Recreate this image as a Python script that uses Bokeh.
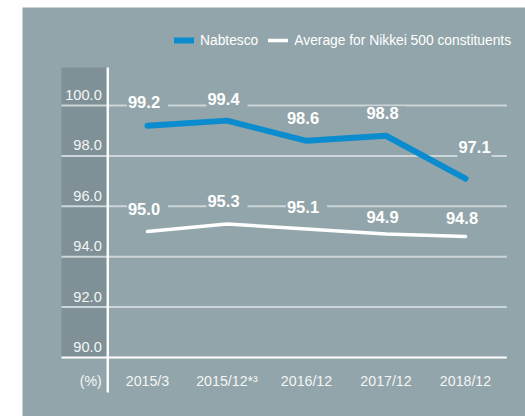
from bokeh.plotting import figure
from bokeh.models import Range1d, BoxAnnotation, Legend, LegendItem, ColumnDataSource
from bokeh.core.properties import value
from bokeh.embed import file_html
from bokeh.resources import INLINE

# ---- data ----
categories = ["2015/3", "2015/12*³", "2016/12", "2017/12", "2018/12"]
nabtesco = [99.2, 99.4, 98.6, 98.8, 97.1]
nikkei_avg = [95.0, 95.3, 95.1, 94.9, 94.8]
y_ticks = [90.0, 92.0, 94.0, 96.0, 98.0, 100.0]
unit_label = "(%)"
series_names = ["Nabtesco", "Average for Nikkei 500 constituents"]

# ---- label placement (screen px) ----
nab_dx = [0, 0, 0, 0, 9]
nab_dy = [-20, -18, -19, -19, -25]
nab_pad = [(1, 8, 1, 8)] * 4 + [(1, 1, 1, 15)]
avg_dx = [0, 0, 0, 0, 0]
avg_dy = [-19, -19, -18, -14, -15]
avg_pad = [(1, 8, 1, 8)] * 5

PANEL = "#92a5aa"
BAND = "#7f9196"
BLUE = "#0a8ccf"
GRID = "#ccd6d8"
FONT = "Liberation Sans"
FS = "13.8px"

xs = list(range(len(categories)))

p = figure(width=525, height=416, output_backend="svg", toolbar_location=None,
           x_range=Range1d(-1.849, 4.7547), y_range=Range1d(87.659, 104.167),
           x_axis_type=None, y_axis_type=None,
           min_border_left=0, min_border_right=0, min_border_top=0, min_border_bottom=0)
p.background_fill_color = "white"
p.border_fill_color = "white"
p.outline_line_color = None

# grey panel (white margin at left/top as in the source page)
p.add_layout(BoxAnnotation(left=22, left_units="canvas", top=7, top_units="canvas",
                           fill_color=PANEL, fill_alpha=1, line_color=None, level="underlay"))
# dark tick band
p.add_layout(BoxAnnotation(left=-1.082, right=-0.5, bottom=y_ticks[0], top=101.51,
                           fill_color=BAND, fill_alpha=1, line_color=None, level="underlay"))

# gridlines
grid_src = ColumnDataSource(dict(y=y_ticks[1:]))
p.segment(x0=-1.082, x1=4.52, y0="y", y1="y", source=grid_src, line_color=GRID, line_width=2)
# baseline and divider
p.segment(x0=[-1.082], x1=[4.52], y0=[y_ticks[0]], y1=[y_ticks[0]], line_color="white", line_width=2.2)
p.segment(x0=[-0.5], x1=[-0.5], y0=[88.61], y1=[101.51], line_color="white", line_width=2.4)

# y tick labels
p.text(x=-0.5, y=y_ticks, text=[f"{t:.1f}" for t in y_ticks], x_offset=-6, y_offset=-10.5,
       text_align="right", text_baseline="middle", text_color="#f4f6f6",
       text_font=value(FONT), text_font_size="14.6px")

# x labels
p.text(x=xs, y=y_ticks[0], text=categories, y_offset=23, text_align="center",
       text_baseline="middle", text_color="#f4f6f6", text_font=value(FONT), text_font_size="14.2px")
p.text(x=[-0.5], y=[y_ticks[0]], text=[unit_label], x_offset=-6, y_offset=23, text_align="right",
       text_baseline="middle", text_color="#f4f6f6", text_font=value(FONT), text_font_size="14.2px")

# series lines
r_avg = p.line(xs, nikkei_avg, line_color="white", line_width=3.5, line_cap="round", line_join="round")
r_nab = p.line(xs, nabtesco, line_color=BLUE, line_width=6, line_cap="round", line_join="round")

# value labels
for vals, dxs, dys, pads in ((nabtesco, nab_dx, nab_dy, nab_pad), (nikkei_avg, avg_dx, avg_dy, avg_pad)):
    for i, v in enumerate(vals):
        p.text(x=[xs[i]], y=[v], text=[f"{v:.1f}"], x_offset=dxs[i], y_offset=dys[i],
               text_align="center", text_baseline="middle", text_color="white",
               text_font=value(FONT), text_font_style="bold", text_font_size="16.5px",
               background_fill_color=PANEL, padding=pads[i])

legend = Legend(items=[LegendItem(label=series_names[0], renderers=[r_nab]),
                       LegendItem(label=series_names[1], renderers=[r_avg])],
                orientation="horizontal", location=(174, 366),
                background_fill_alpha=0, border_line_color=None,
                label_text_color="white", label_text_font=FONT, label_text_font_size=FS,
                glyph_width=20, glyph_height=20, label_standoff=6, spacing=10,
                padding=0, margin=0)
p.add_layout(legend, "center")

open("out.html", "w").write(file_html(p, INLINE))
